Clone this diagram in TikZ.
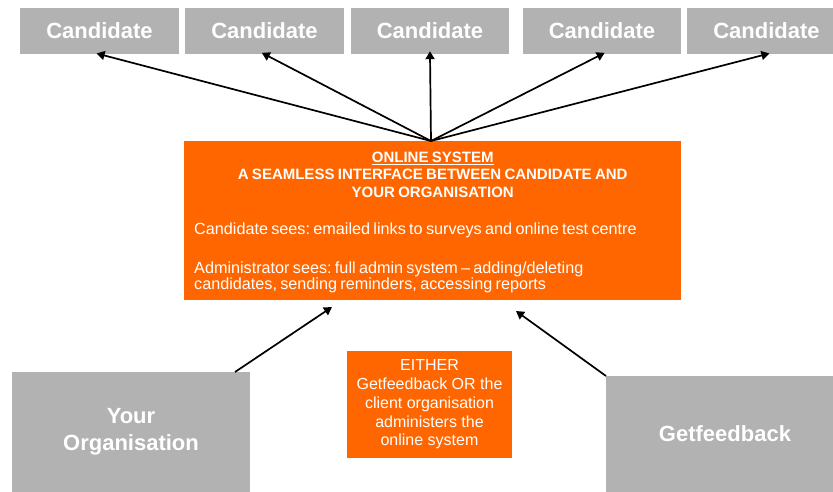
\documentclass[tikz,border=0pt]{standalone}
\usepackage{fontspec}
\setmainfont{Liberation Sans}
\usetikzlibrary{arrows.meta}
\definecolor{boxgrey}{HTML}{B2B2B2}
\definecolor{sysorange}{HTML}{FF6600}
\setlength{\parindent}{0pt}

\begin{document}
\begin{tikzpicture}[x=1pt, y=-1pt,
        greybox/.style={fill=boxgrey, text=white, inner sep=0pt,
            font=\bfseries\fontsize{22}{27}\selectfont},
        orangebox/.style={fill=sysorange, text=white},
        link/.style={line width=1.7pt, -{Triangle[length=8pt, width=9pt]}}]
        \useasboundingbox (0,0) rectangle (833,491);

        \coordinate (hub) at (431,141);
        \coordinate (orgout) at (235,372);
        \coordinate (sysin) at (332,307);
        \coordinate (fbout) at (606,376);
        \coordinate (sysout) at (516,311);

        \node[greybox, minimum width=159pt, minimum height=46pt] (cand1) at (99.5,31) {Candidate};
        \node[greybox, minimum width=159pt, minimum height=46pt] (cand2) at (264.5,31) {Candidate};
        \node[greybox, minimum width=158pt, minimum height=46pt] (cand3) at (430,31) {Candidate};
        \node[greybox, minimum width=158pt, minimum height=46pt] (cand4) at (602,31) {Candidate};
        \node[greybox, minimum width=159pt, minimum height=46pt] (cand5) at (766.5,31) {Candidate};

        \node[orangebox, anchor=north west, text width=477pt, inner xsep=10pt, inner ysep=0pt,
            align=left] (sys) at (184,141) {%
            \frenchspacing
            {\centering\bfseries\fontsize{15}{17.5}\selectfont\rule{0pt}{21pt}\underline{ONLINE SYSTEM}\\
            A SEAMLESS INTERFACE BETWEEN CANDIDATE AND\\
            YOUR ORGANISATION\par}
            \vspace{18pt}
            \fontsize{16.2}{19.3}\selectfont
            Candidate sees: emailed links to surveys and online test centre\par
            \vspace{19.3pt}
            Administrator sees: full admin system -- adding/deleting\\
            candidates, sending reminders, accessing reports\rule[-11pt]{0pt}{11pt}};

        \node[orangebox, minimum width=165pt, minimum height=107pt, inner sep=0pt, align=center,
            font=\fontsize{16}{18.8}\selectfont] (either) at (429.5,404.5)
            {EITHER\\ Getfeedback OR the\\ client organisation\\ administers the\\ online system};

        \node[greybox, minimum width=238pt, minimum height=120pt, align=center] (org) at (131,432)
            {Your\\ Organisation};
        \node[greybox, minimum width=238pt, minimum height=116pt] (fb) at (725,434) {Getfeedback};

        \draw[link, shorten >=-3pt] (hub) -- (cand1.south);
        \draw[link, shorten >=-3pt] (hub) -- (cand2.south);
        \draw[link, shorten >=-3pt] (hub) -- (cand3.south);
        \draw[link, shorten >=-3pt] (hub) -- (cand4.south);
        \draw[link, shorten >=-3pt] (hub) -- (cand5.south);
        \draw[link] (orgout) -- (sysin);
        \draw[link] (fbout) -- (sysout);
    \end{tikzpicture}
\end{document}
